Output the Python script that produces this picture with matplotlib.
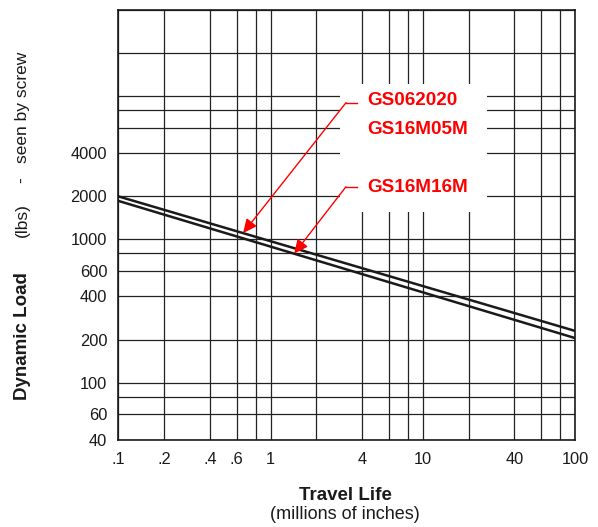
import numpy as np
import matplotlib
matplotlib.use("Agg")
import matplotlib.pyplot as plt
from matplotlib.patches import Rectangle
from matplotlib.lines import Line2D

plt.rcParams['font.family'] = ['Liberation Sans', 'DejaVu Sans']

# ---- data ----
life_range = [0.1, 100]          # millions of inches
upper_load = [2000, 230]         # GS062020 / GS16M05M
lower_load = [1860, 205]         # GS16M16M

x_grid = [0.1, 0.2, 0.4, 0.6, 0.8, 1, 2, 4, 6, 8, 10, 20, 40, 60, 80, 100]
x_tick_labels = ['.1', '.2', '.4', '.6', '', '1', '', '4', '', '', '10', '', '40', '', '', '100']
y_grid = [40, 60, 80, 100, 200, 400, 600, 800, 1000, 2000, 4000, 6000, 8000, 10000, 20000, 40000]
y_tick_labels = ['40', '60', '', '100', '200', '400', '600', '', '1000', '2000', '4000', '', '', '', '', '']

label_upper = ["GS062020", "GS16M05M"]
label_lower = "GS16M16M"
arrow_x_upper = 0.66
arrow_x_lower = 1.43


def on_line(x, xs, ys):
    return 10 ** np.interp(np.log10(x), np.log10(xs), np.log10(ys))


fig = plt.figure(figsize=(5.98, 5.27), dpi=100)
ax = fig.add_axes([0.19783, 0.16565, 0.76371, 0.81537])
ax.set_xscale('log')
ax.set_yscale('log')
ax.set_xlim(0.1, 100)
ax.set_ylim(40, 40000)

ax.set_xticks(x_grid)
ax.set_xticklabels(x_tick_labels)
ax.set_yticks(y_grid)
ax.set_yticklabels(y_tick_labels)
ax.minorticks_off()
ax.tick_params(axis='both', length=0, labelsize=11.8, colors='#1a1a1a')
ax.tick_params(axis='x', pad=9)
ax.tick_params(axis='y', pad=8)

ax.set_axisbelow(True)
ax.grid(True, which='major', color='#222222', lw=0.9)
for s in ax.spines.values():
    s.set_color('#1a1a1a')
    s.set_linewidth(1.2)

# white box behind the labels
ax.add_patch(Rectangle((0.4855, 0.5306), 0.3218, 0.2972, transform=ax.transAxes,
                       facecolor='white', edgecolor='none', zorder=1))

ax.plot(life_range, upper_load, color='#1a1a1a', lw=1.8, zorder=3)
ax.plot(life_range, lower_load, color='#1a1a1a', lw=1.8, zorder=3)

# annotations
ax.text(0.546, 0.789, label_upper[0], transform=ax.transAxes, color='red',
        fontsize=13.6, fontweight='bold', va='center', ha='left', zorder=5)
ax.text(0.546, 0.7224, label_upper[1], transform=ax.transAxes, color='red',
        fontsize=13.6, fontweight='bold', va='center', ha='left', zorder=5)
ax.text(0.546, 0.5874, label_lower, transform=ax.transAxes, color='red',
        fontsize=13.6, fontweight='bold', va='center', ha='left', zorder=5)

for ystart, xa, xs, ys in [(0.7843, arrow_x_upper, life_range, upper_load),
                           (0.5888, arrow_x_lower, life_range, lower_load)]:
    ax.add_line(Line2D([0.4986, 0.5233], [ystart, ystart], transform=ax.transAxes,
                       color='red', lw=1, zorder=5))
    ax.annotate('', xy=(xa, on_line(xa, xs, ys)), xycoords='data',
                xytext=(0.4986, ystart), textcoords='axes fraction',
                arrowprops=dict(arrowstyle='-|>,head_length=0.6,head_width=0.28',
                                color='red', lw=1, shrinkA=0, shrinkB=0,
                                mutation_scale=14), zorder=5)

# axis labels
tc = '#1a1a1a'
fig.text(0.0368, 0.3624, "Dynamic Load", rotation=90, fontsize=13.5, fontweight='bold',
         ha='center', va='center', color=tc)
fig.text(0.0368, 0.5825, "(lbs)", rotation=90, fontsize=12.5, ha='center', va='center', color=tc)
fig.text(0.0368, 0.6584, "-", rotation=90, fontsize=12.5, ha='center', va='center', color=tc)
fig.text(0.0368, 0.796, "seen by screw", rotation=90, fontsize=12.5, ha='center', va='center', color=tc)

fig.text(0.5774, 0.0594, "Travel Life", fontsize=13.5, fontweight='bold',
         ha='center', va='center', color=tc)
fig.text(0.5774, 0.0228, "(millions of inches)", fontsize=13,
         ha='center', va='center', color=tc)

fig.savefig('out.png', dpi=100)
